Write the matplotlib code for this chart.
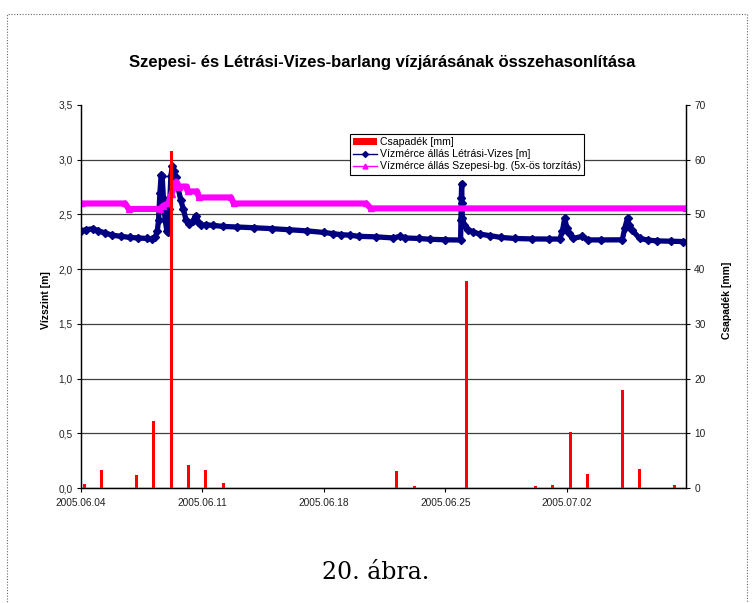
import matplotlib
matplotlib.use('Agg')  # no display
import matplotlib.pyplot as plt
import matplotlib.dates as mdates
from matplotlib.lines import Line2D
from matplotlib.patches import Patch, Rectangle
from matplotlib.ticker import FuncFormatter
from datetime import datetime, timedelta

plt.rcParams['font.family'] = ['Liberation Sans', 'DejaVu Sans']

START = datetime(2005, 6, 4)

# Létrási-Vizes water level [m], day offset from 2005.06.04
blue_days = [0.0, 0.3, 0.7, 1.0, 1.4, 1.8, 2.3, 2.8, 3.3, 3.8, 4.1, 4.28,
             4.4, 4.47, 4.55, 4.62, 4.68, 4.75, 4.85, 4.95, 5.03, 5.1, 5.18,
             5.26, 5.35, 5.45, 5.6, 5.75, 5.9, 6.05, 6.25, 6.45, 6.62, 6.75,
             6.9, 7.2, 7.6, 8.2, 9.0, 10.0, 11.0, 12.0, 13.0, 14.0, 14.5,
             15.0, 15.5, 16.0, 17.0, 18.0, 18.4, 18.7, 19.5, 20.1, 21.0,
             21.88, 21.9, 21.92, 21.94, 21.96, 21.98, 22.1, 22.3, 22.6, 23.0,
             23.6, 24.2, 25.0, 26.0, 27.0, 27.6, 27.75, 27.88, 28.0, 28.1,
             28.36, 28.9, 29.2, 30.0, 31.2, 31.35, 31.5, 31.6, 31.75, 32.2,
             32.7, 33.2, 34.0, 34.7]
blue_vals = [2.35, 2.36, 2.37, 2.35, 2.33, 2.31, 2.30, 2.29, 2.285, 2.28,
             2.275, 2.29, 2.35, 2.45, 2.70, 2.86, 2.85, 2.65, 2.45, 2.35,
             2.34, 2.55, 2.85, 2.94, 2.90, 2.84, 2.74, 2.63, 2.55, 2.45,
             2.41, 2.44, 2.49, 2.43, 2.40, 2.405, 2.40, 2.39, 2.385, 2.378,
             2.37, 2.36, 2.35, 2.335, 2.325, 2.315, 2.31, 2.30, 2.295, 2.285,
             2.30, 2.285, 2.28, 2.273, 2.268, 2.266, 2.45, 2.65, 2.78, 2.60,
             2.47, 2.40, 2.36, 2.34, 2.32, 2.305, 2.29, 2.28, 2.276, 2.275,
             2.275, 2.35, 2.465, 2.38, 2.33, 2.28, 2.30, 2.267, 2.267, 2.268,
             2.38, 2.465, 2.40, 2.36, 2.28, 2.265, 2.258, 2.255, 2.252]

# Szepesi-bg. water level (5x distortion) [m]
mag_days = [0.0, 2.55, 2.75, 4.55, 4.75, 5.03, 5.22, 5.5, 5.65, 6.1, 6.15,
            6.7, 6.8, 8.65, 8.8, 16.45, 16.7, 34.87]
mag_vals = [2.60, 2.60, 2.55, 2.55, 2.58, 2.60, 2.69, 2.80, 2.755, 2.755,
            2.71, 2.71, 2.655, 2.655, 2.60, 2.60, 2.555, 2.555]

# daily precipitation [mm]
rain_days = [0, 1, 3, 4, 5, 6, 7, 8, 18, 19, 22, 26, 27, 28, 29, 31, 32, 34]
rain_mm = [0.7, 3.2, 2.3, 12.2, 61.5, 4.2, 3.2, 1.0, 3.1, 0.4, 37.8, 0.3,
           0.5, 10.3, 2.6, 17.9, 3.4, 0.5]

left_ticks = [0, 0.5, 1.0, 1.5, 2.0, 2.5, 3.0, 3.5]
right_ticks = [0, 10, 20, 30, 40, 50, 60, 70]
date_ticks = [0, 7, 14, 21, 28]

title = 'Szepesi- és Létrási-Vizes-barlang vízjárásának összehasonlítása'
labels = ['Csapadék [mm]', 'Vízmérce állás Létrási-Vizes [m]',
          'Vízmérce állás Szepesi-bg. (5x-ös torzítás)']


def to_dates(days, shift=0.0):
    return [START + timedelta(days=d + shift) for d in days]


fig = plt.figure(figsize=(7.52, 6.03), dpi=100)
ax = fig.add_axes([0.1077, 0.1907, 0.8045, 0.6352])
ax2 = ax.twinx()

ax.plot(to_dates(blue_days), blue_vals, color='#000080', lw=3.8,
        marker='D', ms=4, zorder=3)
ax.plot(to_dates(mag_days), mag_vals, color='#FF00FF', lw=4.4,
        marker='^', ms=4.5, zorder=4)
ax2.bar(to_dates(rain_days, 0.2), rain_mm, width=0.17, color='#FF0000',
        zorder=3)

ax.set_xlim(START, START + timedelta(days=34.87))
ax.set_ylim(0, 3.5)
ax2.set_ylim(0, 70)
ax.set_yticks(left_ticks)
ax2.set_yticks(right_ticks)
ax.set_xticks(to_dates(date_ticks))
ax.xaxis.set_major_formatter(mdates.DateFormatter('%Y.%m.%d'))
ax.yaxis.set_major_formatter(FuncFormatter(lambda v, p: f'{v:.1f}'.replace('.', ',')))

ax.grid(axis='y', color='#404040', lw=0.9)
ax.yaxis.get_gridlines()[-1].set_visible(False)
ax.set_axisbelow(True)

for a in (ax, ax2):
    a.spines['top'].set_visible(False)
    for s in a.spines.values():
        s.set_linewidth(0.9)
ax.tick_params(axis='x', direction='out', length=3, pad=4, labelsize=7.3,
               labelcolor='#222222')
ax.tick_params(axis='y', direction='out', length=3, pad=3, labelsize=7.3,
               labelcolor='#222222')
ax2.tick_params(axis='y', direction='out', length=3, pad=3, labelsize=7.3,
                labelcolor='#222222')

ax.set_ylabel('Vízszint [m]', fontsize=7.5, fontweight='bold')
ax.yaxis.set_label_coords(-0.05, 0.49)
ax2.set_ylabel('Csapadék [mm]', fontsize=7.5, fontweight='bold')
ax2.yaxis.set_label_coords(1.059, 0.49)

handles = [Patch(facecolor='#FF0000', edgecolor='none'),
           Line2D([], [], color='#000080', lw=1, marker='D', ms=3),
           Line2D([], [], color='#FF00FF', lw=1, marker='^', ms=3.5)]
leg = ax2.legend(handles, labels, loc='upper left',
                 bbox_to_anchor=(350 / 752, 1 - 134 / 603),
                 bbox_transform=fig.transFigure, fontsize=7.6,
                 frameon=True, fancybox=False, framealpha=1,
                 edgecolor='black', borderpad=0.3, labelspacing=0.2,
                 handlelength=2.3, handletextpad=0.2, borderaxespad=0)
leg.get_frame().set_linewidth(0.8)

fig.text(0.5086, 0.897, title, ha='center', va='center', fontsize=12,
         fontweight='bold')
fig.text(0.5, 0.051, '20. ábra.', ha='center', va='center', fontsize=17,
         family='DejaVu Serif')

fig.patches.append(Rectangle((7 / 752, -0.05), 740 / 752, 1 - 14 / 603 + 0.05,
                             transform=fig.transFigure, fill=False,
                             edgecolor='#666666', lw=0.8, ls=(0, (1, 1.5))))

fig.savefig('out.png', dpi=100)
